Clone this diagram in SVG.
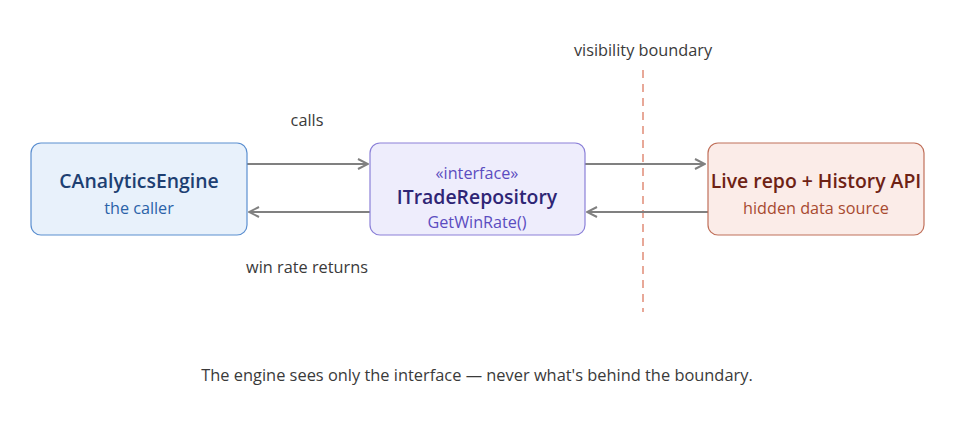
<svg xmlns="http://www.w3.org/2000/svg" width="955" height="439" viewBox="0 0 955 439">
<style>
text{font-family:"Open Sans","Noto Sans","DejaVu Sans",sans-serif;text-anchor:middle;}
.lbl{font-size:16.3px;fill:#3a3a3a;}
.cap{font-size:16.4px;fill:#3a3a3a;}
.title{font-size:19.4px;font-weight:600;}
.sub{font-size:16.2px;}
.conn{stroke:#808080;stroke-width:2;fill:none;}
</style>
<defs>
<marker id="arr" viewBox="0 0 12 12" refX="11" refY="6" markerWidth="12" markerHeight="12" markerUnits="userSpaceOnUse" orient="auto">
<path d="M1,1 L11,6 L1,11" fill="none" stroke="#808080" stroke-width="2"/>
</marker>
</defs>
<rect width="955" height="439" fill="#ffffff"/>
<line x1="643" y1="70" x2="643" y2="312" stroke="#e8a898" stroke-width="2" stroke-dasharray="8,6"/>
<text class="lbl" x="643" y="56">visibility boundary</text>
<g id="connectors">
<line class="conn" x1="247" y1="164" x2="368" y2="164" marker-end="url(#arr)"/>
<line class="conn" x1="370" y1="212" x2="249" y2="212" marker-end="url(#arr)"/>
<line class="conn" x1="585" y1="164" x2="705" y2="164" marker-end="url(#arr)"/>
<line class="conn" x1="708" y1="212" x2="587" y2="212" marker-end="url(#arr)"/>
<text class="lbl" x="307" y="126">calls</text>
<text class="lbl" x="307" y="273">win rate returns</text>
</g>
<g id="engine">
<rect x="31" y="143" width="216" height="92" rx="10" fill="#e8f1fb" stroke="#5b8fd0" stroke-width="1.2"/>
<text class="title" x="139" y="188" fill="#1d3f72">CAnalyticsEngine</text>
<text class="sub" x="139" y="214" fill="#2a62a8">the caller</text>
</g>
<g id="repo">
<rect x="370" y="143" width="215" height="92" rx="10" fill="#eeedfc" stroke="#8b80d8" stroke-width="1.2"/>
<text class="sub" x="477" y="179" fill="#5b4cc0">«interface»</text>
<text class="title" x="477" y="204" fill="#2e2575">ITradeRepository</text>
<text class="sub" x="477" y="228" fill="#5b4cc0">GetWinRate()</text>
</g>
<g id="source">
<rect x="708" y="143" width="216" height="92" rx="10" fill="#fbece8" stroke="#c0705a" stroke-width="1.2"/>
<text class="title" x="816" y="188" fill="#6e2214">Live repo + History API</text>
<text class="sub" x="816" y="214" fill="#a84a30">hidden data source</text>
</g>
<text class="cap" x="477" y="381">The engine sees only the interface — never what's behind the boundary.</text>
</svg>
